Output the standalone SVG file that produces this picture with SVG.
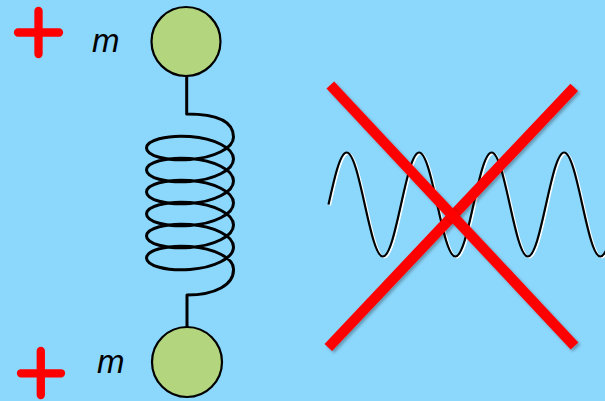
<svg xmlns="http://www.w3.org/2000/svg" width="605" height="401" viewBox="0 0 605 401">
<defs>
<style>
.bg{fill:#8CD7FC}
.mass{fill:#B3D57E;stroke:#000;stroke-width:2.2}
.plus{stroke:#FF0000;stroke-width:8.3;stroke-linecap:round;fill:none}
.lbl{font-family:"Liberation Sans",Arial,sans-serif;font-style:italic;font-size:33px;fill:#000}
.spring{fill:none;stroke:#000;stroke-width:3;stroke-linejoin:round}
.wave{fill:none;stroke:#000;stroke-width:2.2}
.waveHi{fill:none;stroke:#fff;stroke-width:1.8}
.cross{stroke:#FF0000;stroke-width:10.5;stroke-linecap:butt}
</style>
<filter id="sh" x="-10%" y="-10%" width="130%" height="130%">
<feDropShadow dx="2" dy="2" stdDeviation="1.8" flood-color="#000" flood-opacity="0.3"/>
</filter>
</defs>
<rect class="bg" x="0" y="0" width="605" height="401"/>

<g id="plus-top"><path class="plus" d="M18,32.5 H59 M38.5,11 V54"/></g>
<g id="plus-bottom"><path class="plus" d="M21,373.3 H61 M40.8,351 V395"/></g>

<g id="label-top"><text class="lbl" x="92" y="52">m</text></g>
<g id="label-bottom"><text class="lbl" x="97" y="373">m</text></g>

<g id="connectors">
<path class="spring" d="M186.7,76 V114 C215,114 233.5,120 233.5,137
C233.5,148.2 214,157.7 190,159.5 C166,161.3 146.5,155.6 146.5,148 C146.5,140.4 166,134.7 190,136.5 C214,138.3 233.5,147.8 233.5,159
C233.5,170.2 214,179.7 190,181.5 C166,183.3 146.5,177.6 146.5,170 C146.5,162.4 166,156.7 190,158.5 C214,160.3 233.5,169.8 233.5,181
C233.5,192.2 214,201.7 190,203.5 C166,205.3 146.5,199.6 146.5,192 C146.5,184.4 166,178.7 190,180.5 C214,182.3 233.5,191.8 233.5,203
C233.5,214.2 214,223.7 190,225.5 C166,227.3 146.5,221.6 146.5,214 C146.5,206.4 166,200.7 190,202.5 C214,204.3 233.5,213.8 233.5,225
C233.5,236.2 214,245.7 190,247.5 C166,249.3 146.5,243.6 146.5,236 C146.5,228.4 166,222.7 190,224.5 C214,226.3 233.5,235.8 233.5,247
C233.5,258.2 214,267.7 190,269.5 C166,271.3 146.5,265.6 146.5,258 C146.5,250.4 166,244.7 190,246.5 C214,248.3 233.5,257.8 233.5,269
C234,285 215,295 187,295 V327"/>
</g>

<g id="mass-top"><circle class="mass" cx="186" cy="41.5" r="34.5"/></g>
<g id="mass-bottom"><circle class="mass" cx="187" cy="362" r="35"/></g>

<g id="wave">
<path class="waveHi" transform="translate(1.6,1)" d="M328.5,204.5 c5.91,-26.64 11.57,-52 18.125,-52
s12.215,25.36 18.125,52 s11.57,52 18.125,52 s12.215,-25.36 18.125,-52 s11.57,-52 18.125,-52
s12.215,25.36 18.125,52 s11.57,52 18.125,52 s12.215,-25.36 18.125,-52 s11.57,-52 18.125,-52
s12.215,25.36 18.125,52 s11.57,52 18.125,52 s12.215,-25.36 18.125,-52 s11.57,-52 18.125,-52
s12.215,25.36 18.125,52 s11.57,52 18.125,52 s12.215,-25.36 18.125,-52"/>
<path class="wave" d="M328.5,204.5 c5.91,-26.64 11.57,-52 18.125,-52
s12.215,25.36 18.125,52 s11.57,52 18.125,52 s12.215,-25.36 18.125,-52 s11.57,-52 18.125,-52
s12.215,25.36 18.125,52 s11.57,52 18.125,52 s12.215,-25.36 18.125,-52 s11.57,-52 18.125,-52
s12.215,25.36 18.125,52 s11.57,52 18.125,52 s12.215,-25.36 18.125,-52 s11.57,-52 18.125,-52
s12.215,25.36 18.125,52 s11.57,52 18.125,52 s12.215,-25.36 18.125,-52"/>
</g>

<g id="cross">
<line class="cross" filter="url(#sh)" x1="328.3" y1="347.5" x2="574.2" y2="87.3"/>
<line class="cross" filter="url(#sh)" x1="330.3" y1="85" x2="574.5" y2="346"/>
</g>
</svg>
